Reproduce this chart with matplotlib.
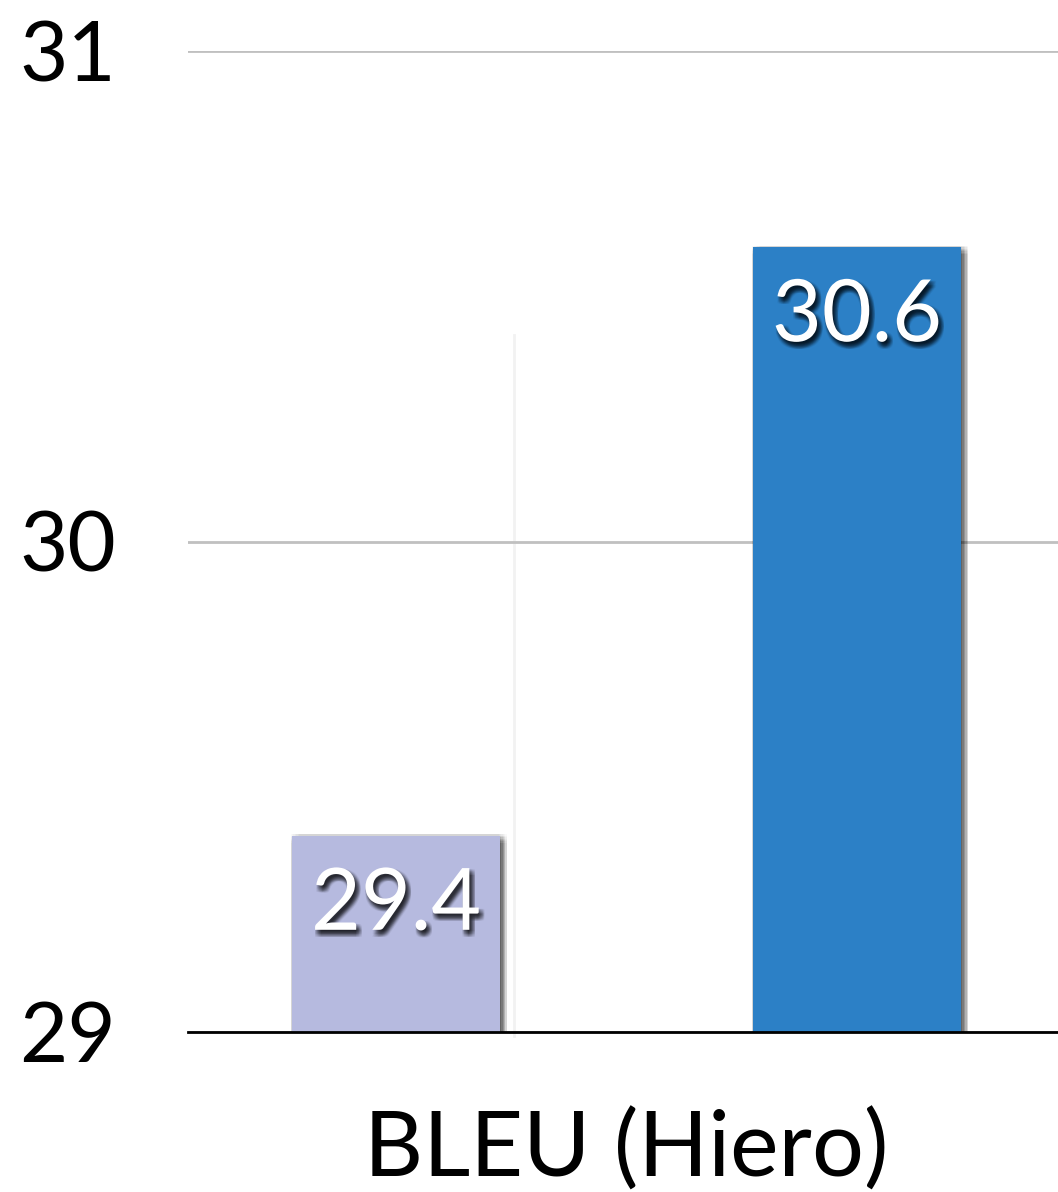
import matplotlib.pyplot as plt
import matplotlib.patheffects as pe

categories = ["baseline", "proposed"]
values = [29.4, 30.6]
colors = ["#b6badf", "#2c80c6"]
yticks = [29, 30, 31]
xlabel = "BLEU (Hiero)"

plt.rcParams["font.family"] = ["Lato", "DejaVu Sans"]


def soft_shadow(offset, alpha, spread=2):
    # fake a blurred drop shadow by stacking a few faint offset copies
    effects = []
    for dx in range(-spread, spread + 1):
        for dy in range(-spread, spread + 1):
            effects.append(pe.SimplePatchShadow(offset=(offset[0] + dx, offset[1] + dy),
                                                shadow_rgbFace="black", alpha=alpha))
    return effects


fig = plt.figure(figsize=(10.58, 11.92), dpi=100)
ax = fig.add_axes([188 / 1058, 160 / 1192, 870 / 1058, 981 / 1192])

positions = list(range(len(values)))
bars = ax.bar(positions, values, width=0.451, color=colors, zorder=3)
for bar in bars:
    bar.set_path_effects(soft_shadow((2, -2), 0.025, spread=3) + [pe.Normal()])

ax.set_ylim(29, 31)
ax.set_xlim(-0.451, 1.436)
ax.set_yticks(yticks)
ax.set_yticklabels([str(t) for t in yticks], fontsize=60)
ax.tick_params(axis="y", length=0, pad=52)
ax.set_xticks([0.5])
ax.set_xticklabels([xlabel], fontsize=66)
ax.tick_params(axis="x", length=0, pad=55)

ax.grid(axis="y", color="#c0c0c0", linewidth=2, zorder=0)
for side in ["top", "right", "left"]:
    ax.spines[side].set_visible(False)
ax.spines["bottom"].set_color("black")
ax.spines["bottom"].set_linewidth(2)
ax.spines["bottom"].set_zorder(4)

# faint separator between the bars
ax.axvline(0.5 - 0.5 * 0.49, ymin=-0.004, ymax=0.71, color="#f2f2f2", linewidth=2,
           zorder=1, clip_on=False)

for pos, val in zip(positions, values):
    ax.annotate(f"{val:.1f}", xy=(pos, val), xytext=(0, -70), textcoords="offset pixels",
                ha="center", va="center", fontsize=62, color="white",
                path_effects=soft_shadow((2, -3), 0.06, spread=2) + [pe.Normal()],
                zorder=5)

fig.savefig("out.png", dpi=100)
